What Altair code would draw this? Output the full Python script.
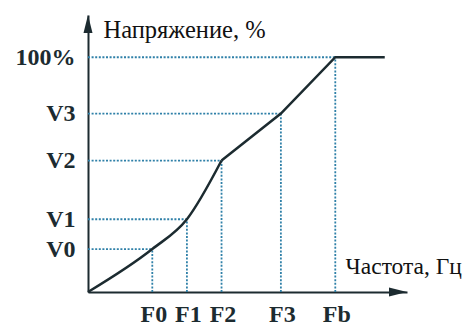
import altair as alt
import pandas as pd

# Breakpoints (frequency, % of base)
f_names = ["F0", "F1", "F2", "F3", "Fb"]
f_values = [26, 40, 54, 78, 100]
v_names = ["V0", "V1", "V2", "V3", "100%"]
v_values = [18.3, 31, 56, 76, 100]

# curved part (origin .. F2) and straight part (F2 .. end)
curve_x = [0, 26, 40, 54]
curve_y = [0, 18.3, 31, 56]
line_x = [54, 78, 100, 120]
line_y = [56, 76, 100, 100]

x_axis_end = 129
y_axis_end = 118

ink = "#1c2b30"
dot = "#2f80a8"
serif = "Liberation Serif"

guides = pd.DataFrame({"f": f_values, "v": v_values, "zero": [0] * 5})
curve = pd.DataFrame({"x": curve_x, "y": curve_y})
straight = pd.DataFrame({"x": line_x, "y": line_y})
arrows = pd.DataFrame({
    "x": [x_axis_end, 0],
    "y": [0, y_axis_end],
    "shape": ["M0,0L-1,-0.25L-1,0.25Z", "M0,0L-0.25,1L0.25,1Z"],
})

x_expr = " : ".join(f"datum.value === {v} ? '{n}'" for v, n in zip(f_values, f_names)) + " : ''"
y_expr = " : ".join(f"datum.value === {v} ? '{n}'" for v, n in zip(v_values, v_names)) + " : ''"

xs = alt.Scale(domain=[0, x_axis_end], nice=False, zero=False)
ys = alt.Scale(domain=[0, y_axis_end], nice=False, zero=False)

x_axis = alt.Axis(
    values=f_values, labelExpr=x_expr, grid=False, ticks=False, tickSize=0,
    domainColor=ink, domainWidth=2,
    labelFont=serif, labelFontSize=24, labelFontWeight="bold", labelColor=ink,
    labelBaseline="middle", labelPadding=22, labelOverlap=False, labelFlush=False,
    labelOffset=1,
    title="Частота, Гц", titleFont=serif, titleFontSize=23.5, titleFontWeight="normal",
    titleColor="#111111", titleAngle=0, titleAlign="left", titleBaseline="alphabetic",
    titleX=257, titleY=-19,
)
y_axis = alt.Axis(
    values=v_values, labelExpr=y_expr, grid=False, ticks=False, tickSize=0,
    domainColor=ink, domainWidth=2,
    labelFont=serif, labelFontSize=24, labelFontWeight="bold", labelColor=ink,
    labelBaseline="middle", labelAlign="right", labelPadding=13,
    labelOverlap=False, labelFlush=False,
    title="Напряжение, %", titleFont=serif, titleFontSize=24.5, titleFontWeight="normal",
    titleColor="#111111", titleAngle=0, titleAlign="left", titleBaseline="alphabetic",
    titleX=15, titleY=22,
)

h_guides = alt.Chart(guides).mark_rule(color=dot, strokeDash=[2, 1.6], strokeWidth=1.8).encode(
    x=alt.X("zero:Q", scale=xs, axis=x_axis), x2="f:Q",
    y=alt.Y("v:Q", scale=ys, axis=y_axis),
)
v_guides = alt.Chart(guides).mark_rule(color=dot, strokeDash=[2, 1.6], strokeWidth=1.8).encode(
    x=alt.X("f:Q", scale=xs), y=alt.Y("zero:Q", scale=ys), y2="v:Q",
)
curve_line = alt.Chart(curve).mark_line(color=ink, strokeWidth=2.5, interpolate="monotone").encode(
    x=alt.X("x:Q", scale=xs), y=alt.Y("y:Q", scale=ys),
)
straight_line = alt.Chart(straight).mark_line(color=ink, strokeWidth=2.5).encode(
    x=alt.X("x:Q", scale=xs), y=alt.Y("y:Q", scale=ys),
)
heads = alt.Chart(arrows).mark_point(filled=True, color=ink, opacity=1, size=1296).encode(
    x=alt.X("x:Q", scale=xs), y=alt.Y("y:Q", scale=ys),
    shape=alt.Shape("shape:N", scale=None),
)

chart = alt.layer(h_guides, v_guides, curve_line, straight_line, heads).properties(
    width=319, height=277,
    autosize="none",
    padding={"left": 80, "top": 7, "right": 59, "bottom": 34},
    background="white",
).configure_view(stroke=None)

chart.save("out.html", embed_options={"renderer": "svg", "actions": False})
